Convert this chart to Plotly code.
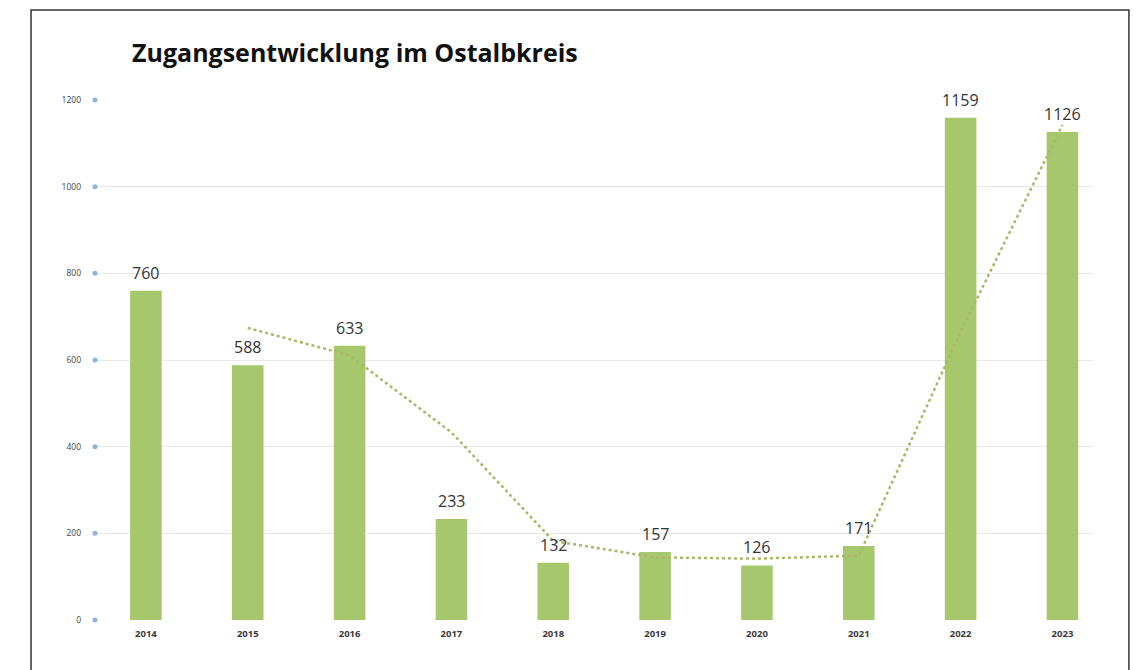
import plotly.graph_objects as go

years = ["2014", "2015", "2016", "2017", "2018", "2019", "2020", "2021", "2022", "2023"]
values = [760, 588, 633, 233, 132, 157, 126, 171, 1159, 1126]
trend_years = ["2015", "2016", "2017", "2018", "2019", "2020", "2021", "2022", "2023"]
trend_values = [674, 610.5, 433, 182.5, 144.5, 141.5, 148.5, 665, 1142.5]
y_ticks = [0, 200, 400, 600, 800, 1000, 1200]
title = "Zugangsentwicklung im Ostalbkreis"

fig = go.Figure()
fig.add_trace(go.Bar(
    x=years, y=values, width=0.31,
    marker=dict(color="#a6c76c", line=dict(width=0)),
    showlegend=False,
))
fig.add_trace(go.Scatter(
    x=trend_years, y=trend_values, mode="lines",
    line=dict(color="#aab86a", width=2.5, dash="dot"),
    showlegend=False, hoverinfo="skip",
))
# tick dots on the y axis
fig.add_trace(go.Scatter(
    x=[0] * len(y_ticks), y=y_ticks, xaxis="x2", yaxis="y", mode="markers",
    marker=dict(color="#8fb4dc", size=5), cliponaxis=False,
    showlegend=False, hoverinfo="skip",
))

annotations = [dict(text="<b>" + title + "</b>", xref="paper", yref="paper",
                    x=0.035, y=1.092, xanchor="left", yanchor="middle",
                    showarrow=False,
                    font=dict(family="Open Sans", size=25, color="#111111"))]
for i, v in enumerate(values):
    annotations.append(dict(x=i, y=v, xref="x", yref="y", text=str(v),
                            showarrow=False, yanchor="bottom", yshift=5,
                            font=dict(family="Open Sans", size=16, color="#333333")))

shapes = [dict(type="rect", xref="paper", yref="paper",
               x0=-0.0641, x1=1.036, y0=-0.12, y1=1.173,
               line=dict(color="#333333", width=1.5), fillcolor="rgba(0,0,0,0)", layer="above")]

fig.update_layout(
    width=1131, height=662,
    margin=dict(l=87, r=46, t=92, b=50),
    paper_bgcolor="white", plot_bgcolor="white",
    shapes=shapes,
    annotations=annotations,
    xaxis=dict(type="category", range=[-0.5, 9.3], showgrid=False, zeroline=False,
               showline=False, ticks="", ticklabelstandoff=6,
               tickfont=dict(family="Open Sans", size=9.5, color="#3a3a3a", weight="bold")),
    xaxis2=dict(overlaying="x", range=[0, 1], visible=False, fixedrange=True),
    yaxis=dict(range=[0, 1200], tickvals=y_ticks, showgrid=True, gridcolor="#e8e8e8",
               gridwidth=1, zeroline=False, showline=False, ticks="",
               ticklabelstandoff=13,
               tickfont=dict(family="Open Sans", size=8.5, color="#444444")),
)

fig.write_html("out.html")
